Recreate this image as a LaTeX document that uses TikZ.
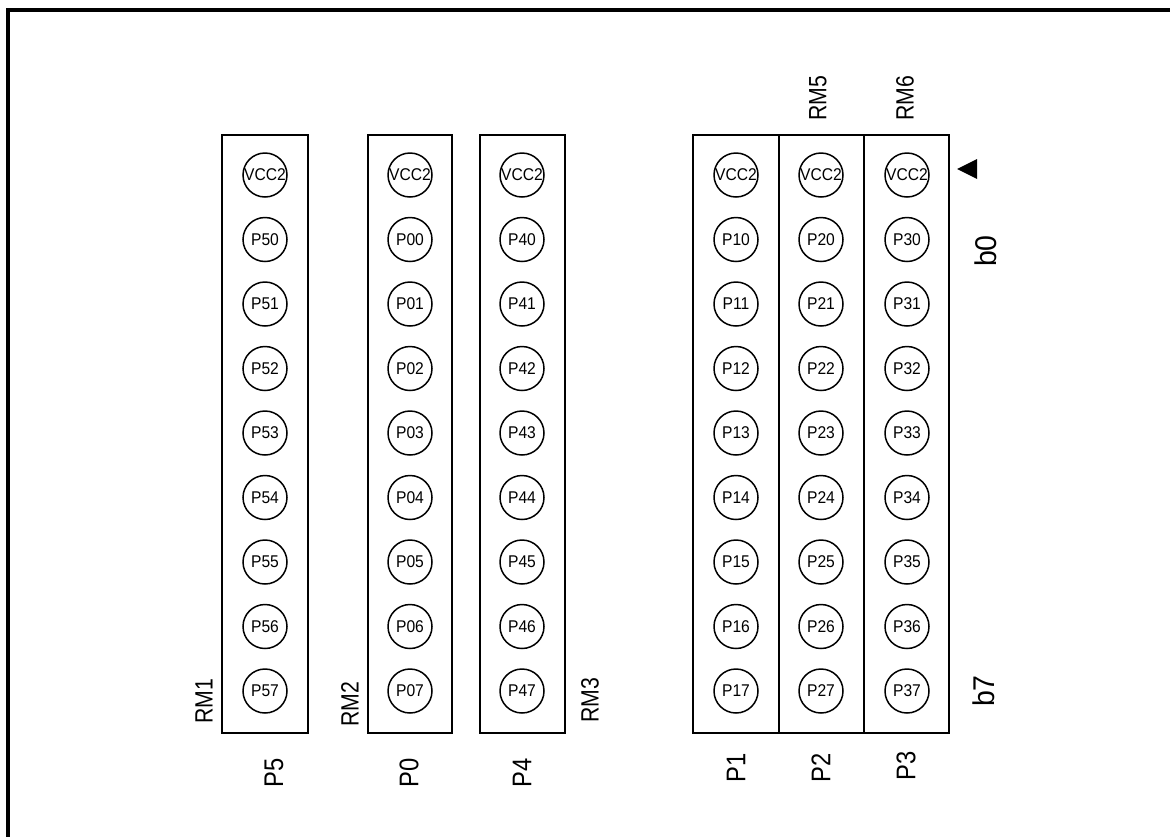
\documentclass[tikz,border=0pt]{standalone}
\usepackage{fontspec}
\setmainfont{Liberation Sans}
\newcommand{\pintxt}[1]{\scalebox{0.92}[1]{#1}}
\newcommand{\labtxt}[2]{\scalebox{#1}[1]{#2}}
\begin{document}
\begin{tikzpicture}[x=1pt,y=-1pt,
  pin/.style={circle,draw,line width=1.5pt,minimum size=44pt,inner sep=0pt,font=\fontsize{17}{17}\selectfont},
  portbox/.style={draw,line width=2pt},
  rmlab/.style={rotate=90,font=\fontsize{25}{25}\selectfont,inner sep=0pt},
  plab/.style={rotate=90,font=\fontsize{27}{27}\selectfont,inner sep=0pt},
  blab/.style={rotate=90,font=\fontsize{30}{30}\selectfont,inner sep=0pt}]
\useasboundingbox (0,0) rectangle (1170,836);
\draw[line width=4pt] (8,840) -- (8,10) -- (1174,10);
% port boxes
\draw[portbox] (222,135) rectangle (308,733);
\draw[portbox] (368,135) rectangle (452,733);
\draw[portbox] (480,135) rectangle (565,733);
\draw[portbox] (693,135) rectangle (779,733);
\draw[portbox] (779,135) rectangle (864,733);
\draw[portbox] (864,135) rectangle (949,733);
% pins
\foreach \cx/\p in {265/5,410/0,522/4,736/1,821/2,907/3} {
  \node[pin] (v\p) at (\cx,175) {\pintxt{VCC2}};
  \foreach \k in {0,...,7} {
    \node[pin] (p\p\k) at (\cx,{239.5+64.5*\k}) {\pintxt{P\p\k}};
  }
}
% labels
\node[rmlab] (rm1) at (204,701) {\labtxt{0.85}{RM1}};
\node[rmlab] (rm2) at (350,704) {\labtxt{0.85}{RM2}};
\node[rmlab] (rm3) at (590,700) {\labtxt{0.85}{RM3}};
\node[rmlab] (rm5) at (818,98) {\labtxt{0.85}{RM5}};
\node[rmlab] (rm6) at (905,98) {\labtxt{0.85}{RM6}};
\node[plab] (l5) at (274,773) {\labtxt{0.88}{P5}};
\node[plab] (l0) at (409,773) {\labtxt{0.88}{P0}};
\node[plab] (l4) at (522,773) {\labtxt{0.88}{P4}};
\node[plab] (l1) at (736,768) {\labtxt{0.88}{P1}};
\node[plab] (l2) at (821,768) {\labtxt{0.88}{P2}};
\node[plab] (l3) at (906,766) {\labtxt{0.88}{P3}};
\node[blab] (b0) at (986,251) {\labtxt{0.95}{b0}};
\node[blab] (b7) at (984,691) {\labtxt{0.95}{b7}};
\fill (957,169) -- (977,159) -- (977,179) -- cycle;
\end{tikzpicture}
\end{document}
